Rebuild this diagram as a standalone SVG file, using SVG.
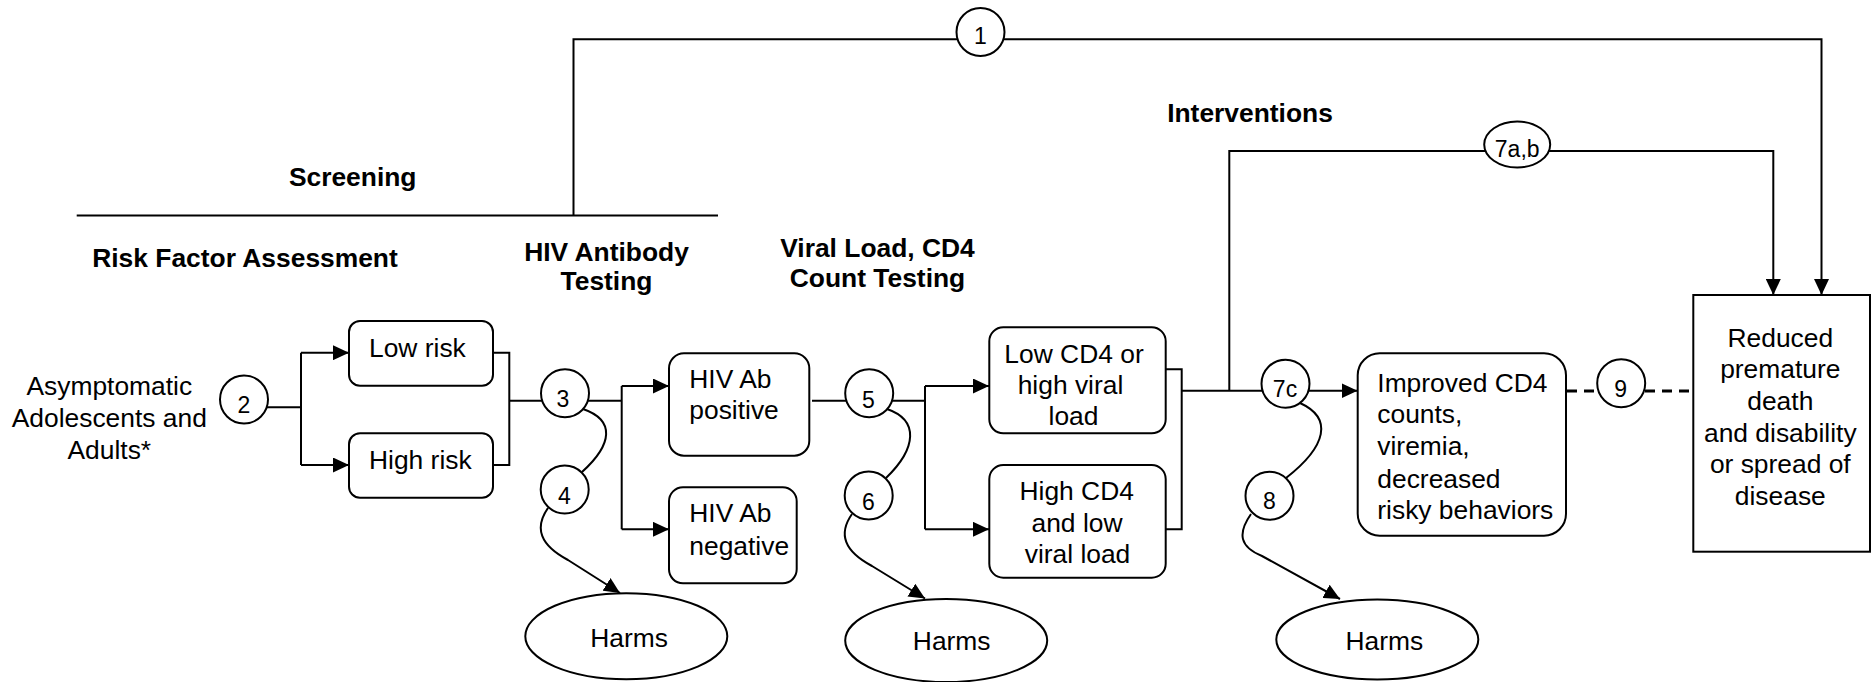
<svg xmlns="http://www.w3.org/2000/svg" width="1875" height="682" viewBox="0 0 1875 682">
<defs>
<style>
.ln{fill:none;stroke:#000;stroke-width:2}
.dash{fill:none;stroke:#000;stroke-width:2.8;stroke-dasharray:10 7}
.box{fill:#fff;stroke:#000;stroke-width:2}
.t{font-family:"Liberation Sans",Arial,sans-serif;font-size:26.4px;fill:#000}
.h{font-family:"Liberation Sans",Arial,sans-serif;font-size:26.4px;font-weight:bold;fill:#000}
.n{font-family:"Liberation Sans",Arial,sans-serif;font-size:23px;fill:#000;text-anchor:middle}
.c{text-anchor:middle}
</style>
<marker id="ah" markerUnits="userSpaceOnUse" markerWidth="16" markerHeight="15" refX="16" refY="7.5" orient="auto" viewBox="0 0 16 15">
<path d="M0,0 L16,7.5 L0,15 z" fill="#000"/>
</marker>
</defs>
<rect width="1875" height="682" fill="#fff"/>

<g id="headings">
<text class="h c" x="352.7" y="186">Screening</text>
<text class="h c" x="245" y="266.7">Risk Factor Assessment</text>
<text class="h c" x="606.5" y="260.7">HIV Antibody</text>
<text class="h c" x="606.5" y="290">Testing</text>
<text class="h c" x="877.5" y="256.7">Viral Load, CD4</text>
<text class="h c" x="877.5" y="286.7">Count Testing</text>
<text class="h c" x="1250" y="122">Interventions</text>
</g>

<g id="connectors">
<line class="ln" x1="76.7" y1="215.5" x2="718" y2="215.5"/>
<path class="ln" d="M573.5 215.5 V39.3 H1821.5 V295" marker-end="url(#ah)"/>
<path class="ln" d="M1229.3 390.7 V151 H1773.3 V295" marker-end="url(#ah)"/>
<line class="ln" x1="267" y1="407.3" x2="301" y2="407.3"/>
<line class="ln" x1="301" y1="352.7" x2="301" y2="465"/>
<line class="ln" x1="301" y1="352.7" x2="349" y2="352.7" marker-end="url(#ah)"/>
<line class="ln" x1="301" y1="465" x2="349" y2="465" marker-end="url(#ah)"/>
<path class="ln" d="M493 352.7 H509.3 V465 H493"/>
<line class="ln" x1="509.3" y1="400.7" x2="621.7" y2="400.7"/>
<line class="ln" x1="621.7" y1="386" x2="621.7" y2="529.3"/>
<line class="ln" x1="621.7" y1="386" x2="669" y2="386" marker-end="url(#ah)"/>
<line class="ln" x1="621.7" y1="529.3" x2="669" y2="529.3" marker-end="url(#ah)"/>
<line class="ln" x1="812" y1="400.7" x2="925" y2="400.7"/>
<line class="ln" x1="925" y1="386" x2="925" y2="529.3"/>
<line class="ln" x1="925" y1="386" x2="989" y2="386" marker-end="url(#ah)"/>
<line class="ln" x1="925" y1="529.3" x2="989" y2="529.3" marker-end="url(#ah)"/>
<path class="ln" d="M1165.7 369.3 H1181.7 V529.3 H1165.7"/>
<line class="ln" x1="1181.7" y1="390.7" x2="1357.5" y2="390.7" marker-end="url(#ah)"/>
<line class="dash" x1="1567" y1="391" x2="1598" y2="391"/>
<line class="dash" x1="1645" y1="391" x2="1693" y2="391"/>
<path class="ln" d="M583 409 C615 420, 613 444, 582 472"/>
<path class="ln" d="M887 409 C919 420, 917 448, 886 478"/>
<path class="ln" d="M1300 403 C1333 418, 1327 446, 1286 478"/>
<path class="ln" d="M548 508 C534 528, 540 545, 568 560 L620 593" marker-end="url(#ah)"/>
<path class="ln" d="M852 514 C838 534, 844 551, 872 566 L925 598.5" marker-end="url(#ah)"/>
<path class="ln" d="M1251 514 C1237 534, 1240 547, 1262 556 L1340 599" marker-end="url(#ah)"/>
</g>

<g id="n1"><circle class="box" cx="980.5" cy="32" r="24"/><text class="n" x="980.5" y="44">1</text></g>
<g id="n7ab"><ellipse class="box" cx="1517.2" cy="144.5" rx="33" ry="23"/><text class="n" x="1517.2" y="156.7">7a,b</text></g>

<g id="population">
<text class="t c" x="109.3" y="395">Asymptomatic</text>
<text class="t c" x="109.3" y="427">Adolescents and</text>
<text class="t c" x="109.3" y="459">Adults*</text>
</g>
<g id="n2"><circle class="box" cx="244" cy="399.5" r="24"/><text class="n" x="244" y="413">2</text></g>

<g id="lowrisk"><rect class="box" x="349" y="321" width="144" height="64.7" rx="11"/><text class="t" x="369" y="357">Low risk</text></g>
<g id="highrisk"><rect class="box" x="349" y="433.3" width="144" height="64.4" rx="11"/><text class="t" x="369" y="469.3">High risk</text></g>

<g id="n3"><circle class="box" cx="565" cy="393.3" r="24"/><text class="n" x="563" y="407">3</text></g>
<g id="n4"><circle class="box" cx="564.7" cy="489.5" r="24"/><text class="n" x="564.5" y="504">4</text></g>

<g id="abpos"><rect class="box" x="669" y="353.3" width="140.3" height="102.4" rx="15"/>
<text class="t" x="689.3" y="388.3">HIV Ab</text><text class="t" x="689.3" y="419.3">positive</text></g>
<g id="abneg"><rect class="box" x="669" y="487.3" width="127.7" height="96" rx="14"/>
<text class="t" x="689.3" y="521.7">HIV Ab</text><text class="t" x="689.3" y="555">negative</text></g>

<g id="harms1"><ellipse class="box" cx="626.3" cy="636.2" rx="101" ry="43"/><text class="t c" x="629" y="647.3">Harms</text></g>

<g id="n5"><circle class="box" cx="869.2" cy="393.3" r="24"/><text class="n" x="868.5" y="408">5</text></g>
<g id="n6"><circle class="box" cx="868.7" cy="495.5" r="24"/><text class="n" x="868.5" y="510">6</text></g>

<g id="harms2"><ellipse class="box" cx="946.2" cy="640.5" rx="101" ry="41.5"/><text class="t c" x="951.7" y="650">Harms</text></g>

<g id="lowcd4"><rect class="box" x="989.3" y="327.3" width="176.4" height="106" rx="14"/>
<text class="t c" x="1074" y="363.3">Low CD4 or</text><text class="t c" x="1070.5" y="394.3">high viral</text><text class="t c" x="1073.5" y="425">load</text></g>
<g id="highcd4"><rect class="box" x="989.3" y="465" width="176.4" height="112.7" rx="14"/>
<text class="t c" x="1076.7" y="500">High CD4</text><text class="t c" x="1077" y="531.7">and low</text><text class="t c" x="1077.5" y="563.3">viral load</text></g>

<g id="n7c"><circle class="box" cx="1285.5" cy="383.7" r="24"/><text class="n" x="1285" y="397.3">7c</text></g>
<g id="n8"><circle class="box" cx="1269.5" cy="495.8" r="24"/><text class="n" x="1269.3" y="509.3">8</text></g>

<g id="harms3"><ellipse class="box" cx="1377.3" cy="639.5" rx="101" ry="40"/><text class="t c" x="1384.3" y="650">Harms</text></g>

<g id="improved"><rect class="box" x="1357.7" y="353.3" width="208.3" height="182.4" rx="22"/>
<text class="t" x="1377.3" y="391.7">Improved CD4</text>
<text class="t" x="1377.3" y="423.3">counts,</text>
<text class="t" x="1377.3" y="455">viremia,</text>
<text class="t" x="1377.3" y="487.7">decreased</text>
<text class="t" x="1377.3" y="519.3">risky behaviors</text></g>

<g id="n9"><circle class="box" cx="1621.2" cy="383.3" r="24"/><text class="n" x="1620.7" y="396.7">9</text></g>

<g id="outcome"><rect class="box" x="1693.3" y="295" width="176.7" height="256.7"/>
<text class="t c" x="1780.3" y="346.7">Reduced</text>
<text class="t c" x="1780.3" y="378.3">premature</text>
<text class="t c" x="1780.3" y="410">death</text>
<text class="t c" x="1780.3" y="441.7">and disability</text>
<text class="t c" x="1780.3" y="473.3">or spread of</text>
<text class="t c" x="1780.3" y="505">disease</text></g>
</svg>
